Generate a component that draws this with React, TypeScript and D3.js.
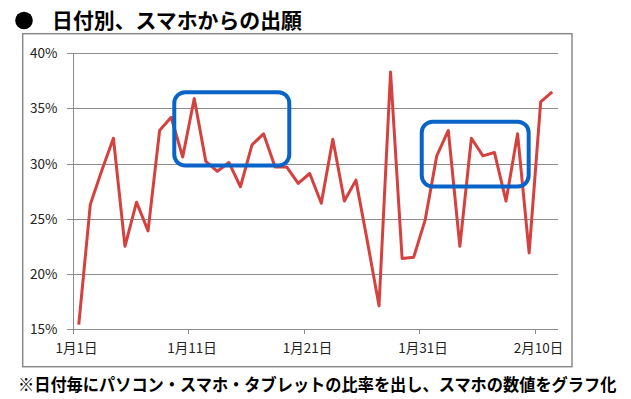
import { useEffect, useRef } from "react";
import * as d3 from "d3";

// daily share of smartphone applications, Jan 1 - Feb 11
const dates = d3.range(42).map((i) => new Date(2014, 0, 1 + i));
const shares = [
  15.4, 26.3, 29.4, 32.3, 22.5, 26.5, 23.9, 33.0, 34.2, 30.6,
  35.9, 30.2, 29.3, 30.1, 27.9, 31.7, 32.7, 29.7, 29.7, 28.2,
  29.1, 26.4, 32.2, 26.6, 28.5, 22.9, 17.1, 38.3, 21.4, 21.5,
  24.9, 30.7, 33.0, 22.5, 32.3, 30.7, 31.0, 26.6, 32.7, 21.9,
  35.6, 36.5,
];
const yTicks = [15, 20, 25, 30, 35, 40];
const labelDays = [0, 10, 20, 30, 40];
// highlighted ranges: [start index, end index, low %, high %]
const boxes = [
  [8.77, 18.73, 29.82, 36.47],
  [30.2, 39.46, 27.92, 33.8],
];

const title = "日付別、スマホからの出願";
const note = "※日付毎にパソコン・スマホ・タブレットの比率を出し、スマホの数値をグラフ化";

const W = 631;
const H = 399;
const font = "'Noto Sans CJK JP', 'Noto Sans', sans-serif";

export default function App() {
  const ref = useRef<SVGSVGElement>(null);

  useEffect(() => {
    const svg = d3.select(ref.current);
    svg.selectAll("*").remove();

    const x = d3.scaleBand<number>().domain(d3.range(dates.length)).range([73, 558]).padding(0);
    const y = d3.scaleLinear().domain([15, 40]).range([329, 53.3]);
    const bw = x.bandwidth();

    // title
    svg.append("circle").attr("cx", 24).attr("cy", 20.5).attr("r", 8.8).attr("fill", "#000");
    svg.append("text")
      .attr("x", 52).attr("y", 28)
      .attr("font-family", font).attr("font-size", 21).attr("font-weight", 700)
      .attr("textLength", 250).attr("lengthAdjust", "spacingAndGlyphs")
      .text(title);

    // chart frame
    svg.append("rect")
      .attr("x", 22.7).attr("y", 33.7).attr("width", 549.3).attr("height", 333)
      .attr("fill", "#fff").attr("stroke", "#8a8a8a").attr("stroke-width", 1.5);

    // gridlines + y labels
    const g = svg.append("g");
    g.selectAll("line.grid").data(yTicks).join("line")
      .attr("x1", 67).attr("x2", 558)
      .attr("y1", (d) => Math.round(y(d)) + 0.5).attr("y2", (d) => Math.round(y(d)) + 0.5)
      .attr("stroke", "#8c8c8c").attr("stroke-width", 1);
    g.selectAll("text.yl").data(yTicks).join("text")
      .attr("x", 57.5).attr("y", (d) => y(d) + 5)
      .attr("text-anchor", "end")
      .attr("font-family", font).attr("font-size", 13.5).attr("fill", "#222")
      .text((d) => d + "%");

    // y axis line
    g.append("line")
      .attr("x1", 73.5).attr("x2", 73.5).attr("y1", y(40)).attr("y2", y(15))
      .attr("stroke", "#8c8c8c").attr("stroke-width", 1);

    // x ticks + labels
    g.selectAll("line.xt").data(labelDays).join("line")
      .attr("x1", (d) => Math.round(x(d)!) + 0.5).attr("x2", (d) => Math.round(x(d)!) + 0.5)
      .attr("y1", y(15)).attr("y2", y(15) + 5)
      .attr("stroke", "#8c8c8c");
    const fmt = (d: Date) => `${d.getMonth() + 1}月${d.getDate()}日`;
    g.selectAll("text.xl").data(labelDays).join("text")
      .attr("x", (d) => x(d)! + 3.5).attr("y", 353)
      .attr("text-anchor", "middle")
      .attr("font-family", font).attr("font-size", 13.5).attr("fill", "#222")
      .text((d) => fmt(dates[d]));

    // series
    const line = d3.line<number>()
      .x((_, i) => x(i)! + bw / 2)
      .y((d) => y(d));
    svg.append("path")
      .attr("d", line(shares))
      .attr("fill", "none").attr("stroke", "#d5413f")
      .attr("stroke-width", 3).attr("stroke-linejoin", "round");

    // highlight boxes
    svg.selectAll("rect.box").data(boxes).join("rect")
      .attr("x", (b) => x(0)! + b[0] * bw)
      .attr("y", (b) => y(b[3]))
      .attr("width", (b) => (b[1] - b[0]) * bw)
      .attr("height", (b) => y(b[2]) - y(b[3]))
      .attr("rx", 11).attr("ry", 11)
      .attr("fill", "none").attr("stroke", "#0a64c8").attr("stroke-width", 4);

    // footnote
    svg.append("text")
      .attr("transform", "translate(18,391) scale(1,1.08)")
      .attr("font-family", font).attr("font-size", 16.2).attr("font-weight", 700)
      .text(note);
  }, []);

  return (
    <svg
      ref={ref}
      width={W}
      height={H}
      style={{ position: "absolute", left: 0, top: 0, background: "#fff" }}
    />
  );
}
